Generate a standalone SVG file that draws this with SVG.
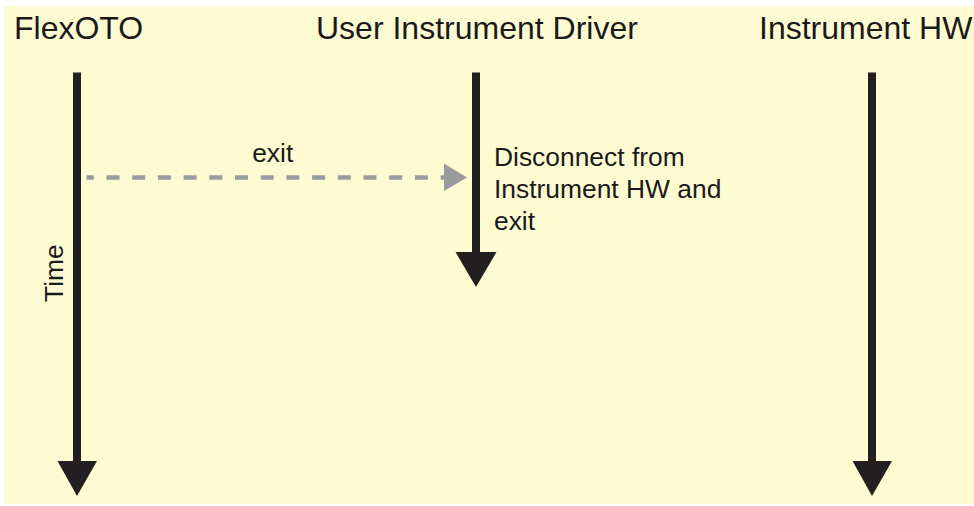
<svg xmlns="http://www.w3.org/2000/svg" width="974" height="506" viewBox="0 0 974 506">
<style>
.t{font-family:"Liberation Sans",Arial,sans-serif;fill:#1a1a1a}
.h{font-size:32px}
.s{font-size:26.4px}
.life{stroke:#231f20;stroke-width:8;fill:none}
.head{fill:#231f20}
.msg{stroke:#9a9b9f;stroke-width:4.5;stroke-dasharray:13 12.7;fill:none}
</style>
<rect x="0" y="0" width="974" height="506" fill="#ffffff"/>
<rect x="4" y="6" width="970" height="498" fill="#fefbd2"/>
<g id="flexoto">
<text class="t h" x="14" y="38.5">FlexOTO</text>
<line class="life" x1="77" y1="72.5" x2="77" y2="462"/>
<polygon class="head" points="57.5,461 97,461 77,496"/>
<text class="t s" transform="translate(63,302) rotate(-90)">Time</text>
</g>
<g id="driver">
<text class="t h" x="316" y="38.5">User Instrument Driver</text>
<line class="life" x1="476" y1="72.5" x2="476" y2="253"/>
<polygon class="head" points="455.5,252 496.5,252 476,287"/>
<text class="t s" x="494" y="166">Disconnect from</text>
<text class="t s" x="494" y="197.5">Instrument HW and</text>
<text class="t s" x="494" y="229.5">exit</text>
</g>
<g id="hw">
<text class="t h" x="759" y="38.5">Instrument HW</text>
<line class="life" x1="872" y1="72.5" x2="872" y2="462"/>
<polygon class="head" points="852.5,461 892,461 872,496"/>
</g>
<g id="connectors">
<line class="msg" x1="86.5" y1="177.5" x2="446" y2="177.5" stroke-dashoffset="5.7"/>
<polygon points="444,163.5 444,191 467,177.5" fill="#9a9b9f"/>
<text class="t s" x="272.7" y="161.5" text-anchor="middle">exit</text>
</g>
</svg>
